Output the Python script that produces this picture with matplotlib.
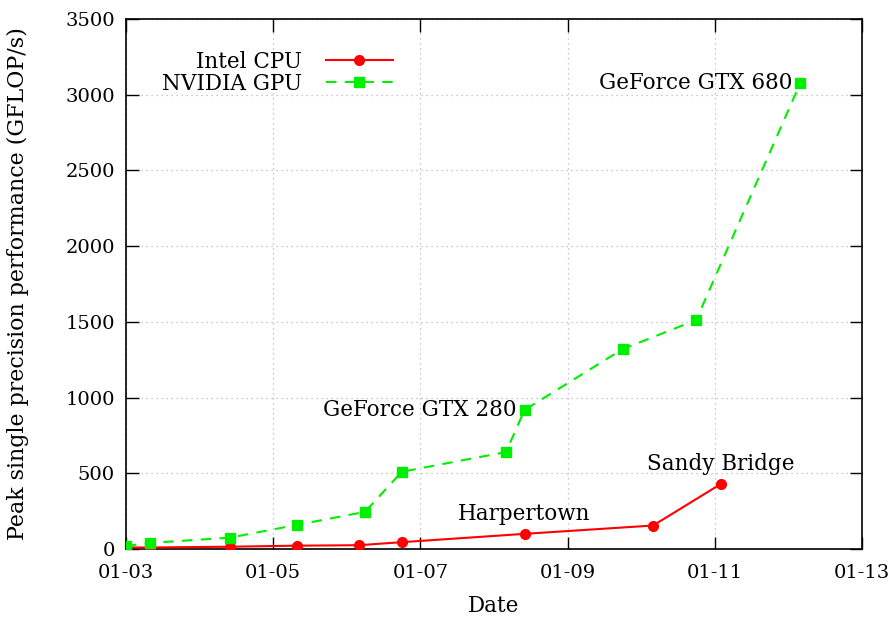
import numpy as np
import pandas as pd
import matplotlib
matplotlib.use("Agg")
import matplotlib.pyplot as plt
import matplotlib.dates as mdates

# peak single precision, GFLOP/s
cpu_dates = ["2003-01-01", "2003-05-01", "2004-06-01", "2005-05-01", "2006-03-01",
             "2006-10-01", "2008-06-01", "2010-03-01", "2011-02-01"]
cpu_vals = [10, 10, 15, 22, 25, 45, 100, 155, 430]

gpu_dates = ["2003-01-01", "2003-05-01", "2004-06-01", "2005-05-01", "2006-04-01",
             "2006-10-01", "2008-03-01", "2008-06-01", "2009-10-01", "2010-10-01",
             "2012-03-01"]
gpu_vals = [20, 40, 75, 160, 245, 510, 640, 918, 1320, 1512, 3078]

xtick_dates = ["2003-01-01", "2005-01-01", "2007-01-01", "2009-01-01",
               "2011-01-01", "2013-01-01"]

cpu_t = pd.to_datetime(cpu_dates)
gpu_t = pd.to_datetime(gpu_dates)

plt.rcParams['font.family'] = ['DejaVu Serif']
plt.rcParams['font.size'] = 14
big = 15.5

fig = plt.figure(figsize=(8.93, 6.19), dpi=100)
ax = fig.add_axes([0.1411, 0.1131, 0.8242, 0.8562])

ax.plot(cpu_t, cpu_vals, '-', color='#ff0000', lw=1.5, marker='o', ms=7,
        label='Intel CPU', zorder=3)
ax.plot(gpu_t, gpu_vals, '--', color='#00ee00', lw=1.5, marker='s', ms=7,
        dashes=(5, 4), label='NVIDIA GPU', zorder=3)

# annotations
ax.annotate('GeForce GTX 680', (gpu_t[-1], gpu_vals[-1]), xytext=(-6, 0),
            textcoords='offset points', ha='right', va='center', fontsize=big)
ax.annotate('GeForce GTX 280', (gpu_t[7], gpu_vals[7]), xytext=(-6, 0),
            textcoords='offset points', ha='right', va='center', fontsize=big)
ax.annotate('Harpertown', (cpu_t[6], cpu_vals[6]), xytext=(0, 14),
            textcoords='offset points', ha='center', va='center', fontsize=big)
ax.annotate('Sandy Bridge', (cpu_t[-1], cpu_vals[-1]), xytext=(0, 14),
            textcoords='offset points', ha='center', va='center', fontsize=big)

ax.set_xlim(pd.Timestamp(xtick_dates[0]), pd.Timestamp(xtick_dates[-1]))
ax.set_ylim(0, 3500)
ax.set_yticks(np.arange(0, 3501, 500))
ax.set_xticks(pd.to_datetime(xtick_dates))
ax.xaxis.set_major_formatter(mdates.DateFormatter('%m-%y'))

ax.grid(True, color='#b8b8b8', linestyle=(0, (1, 3)), lw=0.9)
ax.tick_params(direction='in', length=9, width=1, top=True, right=True)
ax.tick_params(axis='x', pad=11)
ax.tick_params(axis='y', pad=8)
for s in ax.spines.values():
    s.set_linewidth(1.2)

ax.set_xlabel('Date', labelpad=9, fontsize=big)
ax.set_ylabel('Peak single precision performance (GFLOP/s)', labelpad=26,
              fontsize=15.9)

leg = ax.legend(loc='upper left', bbox_to_anchor=(0.049, 0.94), frameon=False,
                markerfirst=False, handlelength=3.1, handletextpad=1.1,
                labelspacing=0.0, borderaxespad=0.0, borderpad=0.0,
                fontsize=big)
for t in leg.get_texts():
    t.set_ha('right')
leg._legend_box.align = 'right'

fig.savefig('out.png', dpi=100)
